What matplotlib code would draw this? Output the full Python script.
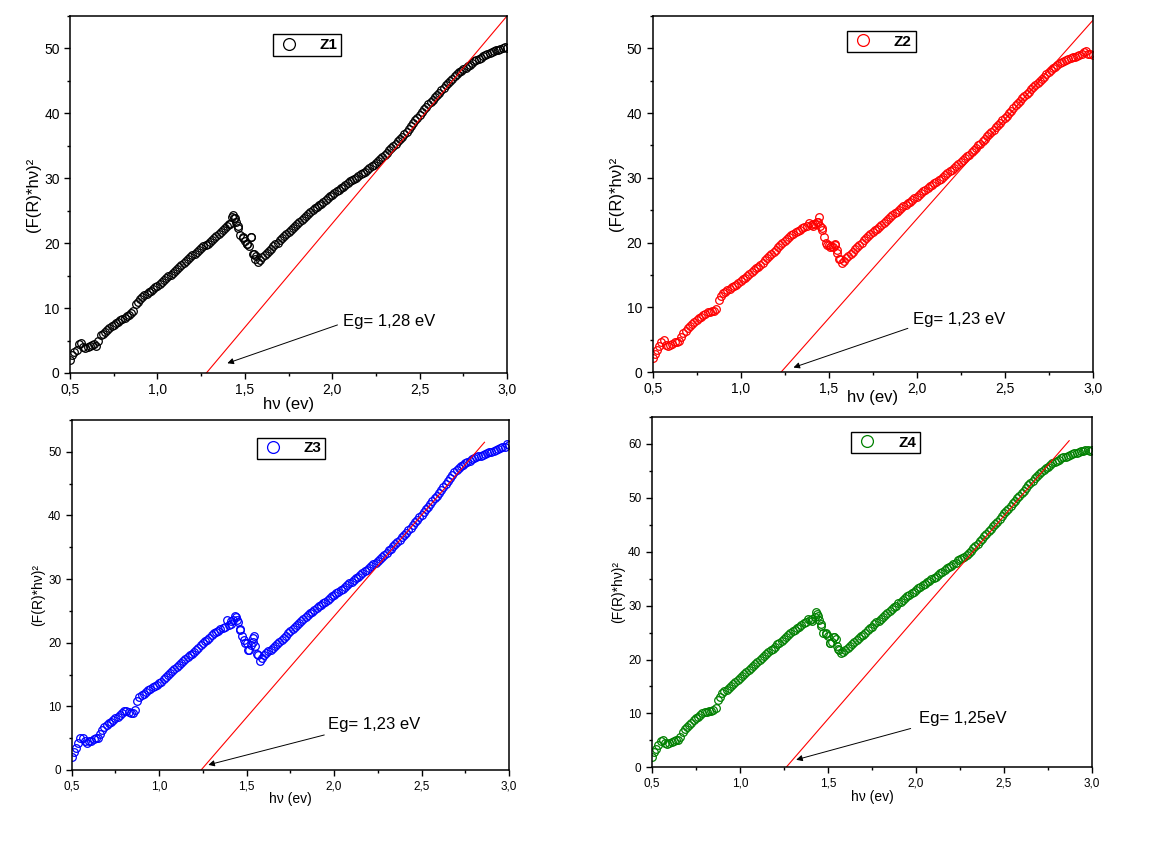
import numpy as np
import matplotlib.pyplot as plt
from matplotlib.ticker import MultipleLocator

plt.rcParams['font.family'] = ['Liberation Sans', 'DejaVu Sans']

# photon energy (eV)
hv = [0.500, 0.525, 0.550, 0.575, 0.600, 0.625, 0.650, 0.675, 0.700, 0.725,
      0.750, 0.775, 0.800, 0.825, 0.850, 0.875, 0.900, 0.925, 0.950, 0.975,
      1.000, 1.025, 1.050, 1.075, 1.100, 1.125, 1.150, 1.175, 1.200, 1.225,
      1.250, 1.275, 1.300, 1.325, 1.350, 1.375, 1.400, 1.425, 1.450, 1.475,
      1.500, 1.525, 1.550, 1.575, 1.600, 1.625, 1.650, 1.675, 1.700, 1.725,
      1.750, 1.775, 1.800, 1.825, 1.850, 1.875, 1.900, 1.925, 1.950, 1.975,
      2.000, 2.025, 2.050, 2.075, 2.100, 2.125, 2.150, 2.175, 2.200, 2.225,
      2.250, 2.275, 2.300, 2.325, 2.350, 2.375, 2.400, 2.425, 2.450, 2.475,
      2.500, 2.525, 2.550, 2.575, 2.600, 2.625, 2.650, 2.675, 2.700, 2.725,
      2.750, 2.775, 2.800, 2.825, 2.850, 2.875, 2.900, 2.925, 2.950, 2.975,
      3.000]

hv_mid = [0.5125, 0.5375, 0.5625, 0.5875, 0.6125, 0.6375, 0.6625, 0.6875, 0.7125, 0.7375,
          0.7625, 0.7875, 0.8125, 0.8375, 0.8625, 0.8875, 0.9125, 0.9375, 0.9625, 0.9875,
          1.0125, 1.0375, 1.0625, 1.0875, 1.1125, 1.1375, 1.1625, 1.1875, 1.2125, 1.2375,
          1.2625, 1.2875, 1.3125, 1.3375, 1.3625, 1.3875, 1.4125, 1.4375, 1.4625, 1.4875,
          1.5125, 1.5375, 1.5625, 1.5875, 1.6125, 1.6375, 1.6625, 1.6875, 1.7125, 1.7375,
          1.7625, 1.7875, 1.8125, 1.8375, 1.8625, 1.8875, 1.9125, 1.9375, 1.9625, 1.9875,
          2.0125, 2.0375, 2.0625, 2.0875, 2.1125, 2.1375, 2.1625, 2.1875, 2.2125, 2.2375,
          2.2625, 2.2875, 2.3125, 2.3375, 2.3625, 2.3875, 2.4125, 2.4375, 2.4625, 2.4875,
          2.5125, 2.5375, 2.5625, 2.5875, 2.6125, 2.6375, 2.6625, 2.6875, 2.7125, 2.7375,
          2.7625, 2.7875, 2.8125, 2.8375, 2.8625, 2.8875, 2.9125, 2.9375, 2.9625, 2.9875]

z1 = [2.0, 3.2, 4.4, 4.0, 4.0, 4.3, 4.2, 5.8, 6.3, 6.9,
      7.4, 7.9, 8.3, 8.7, 9.2, 10.6, 11.4, 12.0, 12.5, 12.9,
      13.4, 14.0, 14.6, 15.1, 15.7, 16.3, 17.0, 17.6, 18.2, 18.7,
      19.2, 19.7, 20.2, 20.8, 21.4, 22.0, 22.6, 24.0, 23.2, 21.2,
      20.4, 19.6, 18.4, 17.1, 17.9, 18.5, 19.1, 19.8, 20.5, 21.1,
      21.7, 22.4, 23.0, 23.6, 24.2, 24.8, 25.4, 25.9, 26.4, 26.9,
      27.4, 28.0, 28.5, 29.0, 29.5, 29.9, 30.4, 30.8, 31.3, 31.9,
      32.4, 33.0, 33.6, 34.3, 35.0, 35.7, 36.4, 37.2, 38.1, 38.9,
      39.8, 40.6, 41.4, 42.1, 42.9, 43.6, 44.3, 45.0, 45.7, 46.3,
      46.8, 47.3, 47.8, 48.2, 48.6, 49.0, 49.3, 49.6, 49.8, 50.0,
      50.1]
z1_mid = [2.7, 3.6, 4.6, 3.8, 4.2, 4.4, 5.0, 6.0, 6.6, 7.2,
          7.7, 8.1, 8.5, 8.9, 9.6, 11.0, 11.7, 12.2, 12.7, 13.2,
          13.7, 14.3, 14.9, 15.4, 16.0, 16.7, 17.3, 17.9, 18.4, 19.0,
          19.5, 19.9, 20.5, 21.1, 21.7, 22.3, 23.0, 23.8, 22.4, 20.8,
          19.9, 21.0, 18.0, 17.4, 18.2, 18.8, 19.5, 20.1, 20.8, 21.4,
          22.0, 22.7, 23.3, 23.9, 24.5, 25.1, 25.6, 26.1, 26.6, 27.2,
          27.7, 28.2, 28.7, 29.2, 29.7, 30.1, 30.6, 31.0, 31.6, 32.1,
          32.7, 33.3, 33.9, 34.6, 35.3, 36.0, 36.8, 37.6, 38.5, 39.3,
          40.2, 41.0, 41.7, 42.5, 43.2, 43.9, 44.6, 45.3, 46.0, 46.5,
          47.0, 47.5, 48.0, 48.4, 48.8, 49.1, 49.4, 49.7, 49.9, 50.2]

z2 = [2.1, 3.4, 4.7, 4.2, 4.2, 4.6, 4.8, 6.0, 6.8, 7.4,
      8.0, 8.5, 9.0, 9.3, 9.4, 11.1, 12.2, 12.6, 13.1, 13.5,
      14.0, 14.6, 15.2, 15.8, 16.3, 16.9, 17.6, 18.3, 18.9, 19.6,
      20.2, 20.8, 21.4, 21.8, 22.2, 22.6, 22.7, 22.9, 22.5, 20.8,
      19.6, 19.3, 18.4, 16.9, 17.6, 18.3, 19.0, 19.7, 20.4, 21.0,
      21.6, 22.1, 22.7, 23.3, 23.9, 24.5, 25.1, 25.6, 26.1, 26.6,
      27.1, 27.6, 28.1, 28.7, 29.2, 29.7, 30.2, 30.7, 31.2, 31.8,
      32.4, 33.0, 33.6, 34.3, 35.0, 35.7, 36.4, 37.1, 37.8, 38.5,
      39.2, 40.0, 40.8, 41.6, 42.3, 43.0, 43.7, 44.3, 44.9, 45.6,
      46.3, 46.9, 47.5, 47.9, 48.2, 48.5, 48.7, 49.0, 49.4, 49.2,
      49.0]
z2_mid = [2.8, 4.0, 4.9, 4.0, 4.4, 4.7, 5.4, 6.4, 7.1, 7.7,
          8.3, 8.8, 9.2, 9.5, 9.8, 11.8, 12.4, 12.9, 13.3, 13.8,
          14.3, 14.9, 15.5, 16.1, 16.6, 17.3, 18.0, 18.6, 19.3, 19.9,
          20.5, 21.1, 21.6, 22.0, 22.4, 23.1, 22.6, 23.2, 21.9, 19.9,
          19.5, 19.6, 17.4, 17.2, 17.9, 18.6, 19.3, 20.0, 20.7, 21.3,
          21.9, 22.4, 23.0, 23.6, 24.2, 24.8, 25.3, 25.8, 26.3, 26.9,
          27.4, 27.9, 28.4, 28.9, 29.4, 29.9, 30.4, 31.0, 31.5, 32.1,
          32.7, 33.3, 34.0, 34.6, 35.3, 36.0, 36.7, 37.4, 38.1, 38.9,
          39.6, 40.4, 41.2, 41.9, 42.6, 43.3, 44.0, 44.6, 45.3, 46.0,
          46.6, 47.2, 47.7, 48.0, 48.3, 48.6, 48.9, 49.2, 49.6, 49.1]

z3 = [2.1, 3.5, 5.0, 4.6, 4.5, 4.8, 5.0, 6.3, 7.1, 7.6,
      8.1, 8.7, 9.2, 9.1, 8.9, 10.9, 11.8, 12.3, 12.8, 13.2,
      13.6, 14.3, 14.9, 15.6, 16.2, 16.8, 17.4, 18.0, 18.6, 19.2,
      19.9, 20.5, 21.2, 21.7, 22.1, 22.5, 22.8, 23.6, 23.3, 21.0,
      19.9, 19.6, 19.5, 17.2, 18.1, 18.7, 19.2, 19.8, 20.4, 21.1,
      21.8, 22.5, 23.1, 23.7, 24.3, 24.9, 25.4, 25.9, 26.4, 27.0,
      27.5, 28.0, 28.5, 29.1, 29.6, 30.1, 30.6, 31.2, 31.7, 32.3,
      32.9, 33.5, 34.1, 34.8, 35.5, 36.2, 36.9, 37.7, 38.5, 39.3,
      40.1, 41.0, 41.8, 42.7, 43.5, 44.5, 45.4, 46.3, 47.2, 47.7,
      48.2, 48.6, 49.0, 49.3, 49.5, 49.8, 50.0, 50.3, 50.6, 50.8,
      51.1]
z3_mid = [2.9, 4.2, 5.1, 4.3, 4.6, 5.0, 5.6, 6.8, 7.4, 7.8,
          8.4, 9.0, 9.3, 8.9, 9.5, 11.5, 12.0, 12.5, 13.0, 13.4,
          13.9, 14.6, 15.2, 15.9, 16.5, 17.1, 17.7, 18.3, 18.9, 19.6,
          20.2, 20.8, 21.5, 21.9, 22.3, 23.5, 22.9, 24.1, 22.1, 20.4,
          18.8, 20.1, 18.0, 17.6, 18.4, 18.9, 19.5, 20.1, 20.8, 21.5,
          22.2, 22.8, 23.4, 24.0, 24.6, 25.2, 25.7, 26.2, 26.7, 27.3,
          27.8, 28.3, 28.8, 29.4, 29.9, 30.4, 30.9, 31.5, 32.0, 32.6,
          33.2, 33.8, 34.5, 35.2, 35.9, 36.6, 37.3, 38.1, 38.9, 39.7,
          40.6, 41.4, 42.3, 43.1, 44.0, 45.0, 45.9, 46.8, 47.5, 48.0,
          48.4, 48.8, 49.2, 49.4, 49.7, 49.9, 50.2, 50.5, 50.7, 51.3]

z4 = [2.0, 3.4, 4.8, 4.6, 4.5, 4.8, 5.1, 6.6, 7.5, 8.3,
      9.1, 9.7, 10.3, 10.4, 10.6, 12.4, 13.7, 14.4, 15.1, 15.8,
      16.5, 17.3, 18.1, 18.8, 19.6, 20.3, 21.0, 21.7, 22.4, 23.1,
      23.8, 24.5, 25.2, 25.8, 26.4, 26.9, 27.3, 27.8, 27.4, 25.0,
      24.3, 23.2, 22.6, 21.2, 21.8, 22.5, 23.2, 23.9, 24.6, 25.4,
      26.1, 26.9, 27.6, 28.3, 29.0, 29.7, 30.4, 31.0, 31.7, 32.3,
      32.9, 33.5, 34.0, 34.6, 35.1, 35.7, 36.3, 36.9, 37.4, 38.0,
      38.7, 39.1, 39.8, 40.6, 41.5, 42.4, 43.3, 44.2, 45.2, 46.1,
      47.1, 48.0, 49.0, 49.9, 50.9, 51.8, 52.7, 53.6, 54.4, 55.1,
      55.8, 56.4, 56.9, 57.3, 57.6, 57.9, 58.3, 58.5, 58.7, 58.8,
      58.9]
z4_mid = [2.8, 4.1, 5.0, 4.4, 4.7, 5.0, 5.6, 7.1, 7.9, 8.7,
          9.4, 10.0, 10.2, 10.5, 11.0, 13.1, 14.1, 14.8, 15.4, 16.2,
          16.9, 17.7, 18.4, 19.2, 19.9, 20.7, 21.4, 22.0, 22.8, 23.5,
          24.2, 24.9, 25.5, 26.1, 26.7, 27.6, 27.2, 28.4, 26.6, 24.8,
          23.0, 24.1, 21.8, 21.4, 22.2, 22.9, 23.6, 24.3, 25.0, 25.8,
          26.5, 27.2, 27.9, 28.7, 29.4, 30.0, 30.7, 31.4, 32.0, 32.6,
          33.2, 33.8, 34.3, 34.9, 35.4, 36.0, 36.6, 37.2, 37.7, 38.4,
          38.9, 39.4, 40.2, 41.0, 42.0, 42.9, 43.8, 44.7, 45.6, 46.6,
          47.6, 48.5, 49.5, 50.4, 51.3, 52.3, 53.2, 54.0, 54.8, 55.5,
          56.1, 56.7, 57.1, 57.5, 57.8, 58.1, 58.4, 58.6, 58.8, 58.6]

# scattered points around the peak near 1.45 eV
hump_hv = [1.41, 1.435, 1.445, 1.46, 1.49, 1.51, 1.535, 1.545, 1.56]
z1_hump = [23.0, 24.3, 23.8, 22.6, 21.0, 19.8, 20.9, 18.3, 17.6]
z2_hump = [22.8, 23.2, 24.0, 22.2, 19.7, 19.3, 19.8, 18.9, 17.5]
z3_hump = [23.4, 24.2, 23.6, 22.0, 20.0, 18.8, 20.8, 21.0, 18.2]
z4_hump = [27.5, 28.9, 28.0, 26.3, 24.9, 23.0, 24.2, 23.8, 22.0]

samples = ['Z1', 'Z2', 'Z3', 'Z4']
series = [z1, z2, z3, z4]
series_mid = [z1_mid, z2_mid, z3_mid, z4_mid]
humps = [z1_hump, z2_hump, z3_hump, z4_hump]
colors = ['black', '#ff0000', '#0000ff', '#008000']
eg_labels = ['Eg= 1,28 eV', 'Eg= 1,23 eV', 'Eg= 1,23 eV', 'Eg= 1,25eV']

# linear fit (tangent) end points
fit_x = [[1.28, 3.0], [1.23, 3.0], [1.24, 2.86], [1.263, 2.87]]
fit_y = [[0, 55], [0, 54.3], [0, 51.5], [0, 60.6]]
y_max = [55, 55, 55, 65]

xticks = [0.5, 1.0, 1.5, 2.0, 2.5, 3.0]
xtick_labels = ['0,5', '1,0', '1,5', '2,0', '2,5', '3,0']

# layout per panel
axes_pos = [[0.0606, 0.5653, 0.3780, 0.4161],
            [0.5646, 0.5664, 0.3806, 0.4149],
            [0.0620, 0.1026, 0.3783, 0.4079],
            [0.5638, 0.1057, 0.3809, 0.4083]]
legend_pos = [(0.543, 0.919), (0.52, 0.928), (0.502, 0.919), (0.531, 0.927)]
text_pos = [(2.06, 7.9), (1.98, 8.1), (1.963, 7.2), (2.018, 9.1)]
arrow_tail = [(2.03, 7.4), (1.95, 6.75), (1.944, 5.5), (1.97, 7.2)]
arrow_head = [(1.40, 1.5), (1.30, 0.7), (1.281, 0.8), (1.32, 1.4)]
tick_size = [10, 10, 8.5, 8.5]
label_size = [12, 12, 10, 10]
xlabel_pad = [0, -5, 0, 0]

fig = plt.figure(figsize=(11.56, 8.58), dpi=100)

for i in range(4):
    ax = fig.add_axes(axes_pos[i])
    x_all = hv + hv_mid + hump_hv
    y_all = series[i] + series_mid[i] + humps[i]
    line, = ax.plot(x_all, y_all, 'o', ms=5.5, mfc='none',
                    mec=colors[i], mew=0.9, label=samples[i])
    ax.plot(fit_x[i], fit_y[i], color='#ff0000', lw=0.8)

    ax.set_xlim(0.5, 3.0)
    ax.set_ylim(0, y_max[i])
    ax.set_xticks(xticks)
    ax.set_xticklabels(xtick_labels)
    ax.xaxis.set_minor_locator(MultipleLocator(0.25))
    ax.yaxis.set_major_locator(MultipleLocator(10))
    ax.yaxis.set_minor_locator(MultipleLocator(5))
    ax.tick_params(which='both', direction='out', top=False, right=False,
                   labelsize=tick_size[i], width=1)
    ax.tick_params(which='major', length=4)
    ax.tick_params(which='minor', length=2.5)
    for s in ax.spines.values():
        s.set_linewidth(1.1)

    ax.set_xlabel('h\u03bd (ev)', fontsize=label_size[i], labelpad=xlabel_pad[i])
    ax.set_ylabel('(F(R)*h\u03bd)\u00b2', fontsize=label_size[i], labelpad=2)

    ax.text(text_pos[i][0], text_pos[i][1], eg_labels[i], fontsize=12,
            ha='left', va='center')
    ax.annotate('', xy=arrow_head[i], xytext=arrow_tail[i],
                arrowprops=dict(arrowstyle='-|>', color='black', lw=0.7,
                                mutation_scale=9, shrinkA=0, shrinkB=0))

    ax.legend(handles=[line], loc='center', bbox_to_anchor=legend_pos[i],
              fancybox=False, edgecolor='black', framealpha=1, markerscale=1.55,
              handlelength=1.6, handletextpad=1.2, borderpad=0.25,
              prop={'weight': 'bold', 'size': 11})

plt.savefig('out.png', dpi=100)
